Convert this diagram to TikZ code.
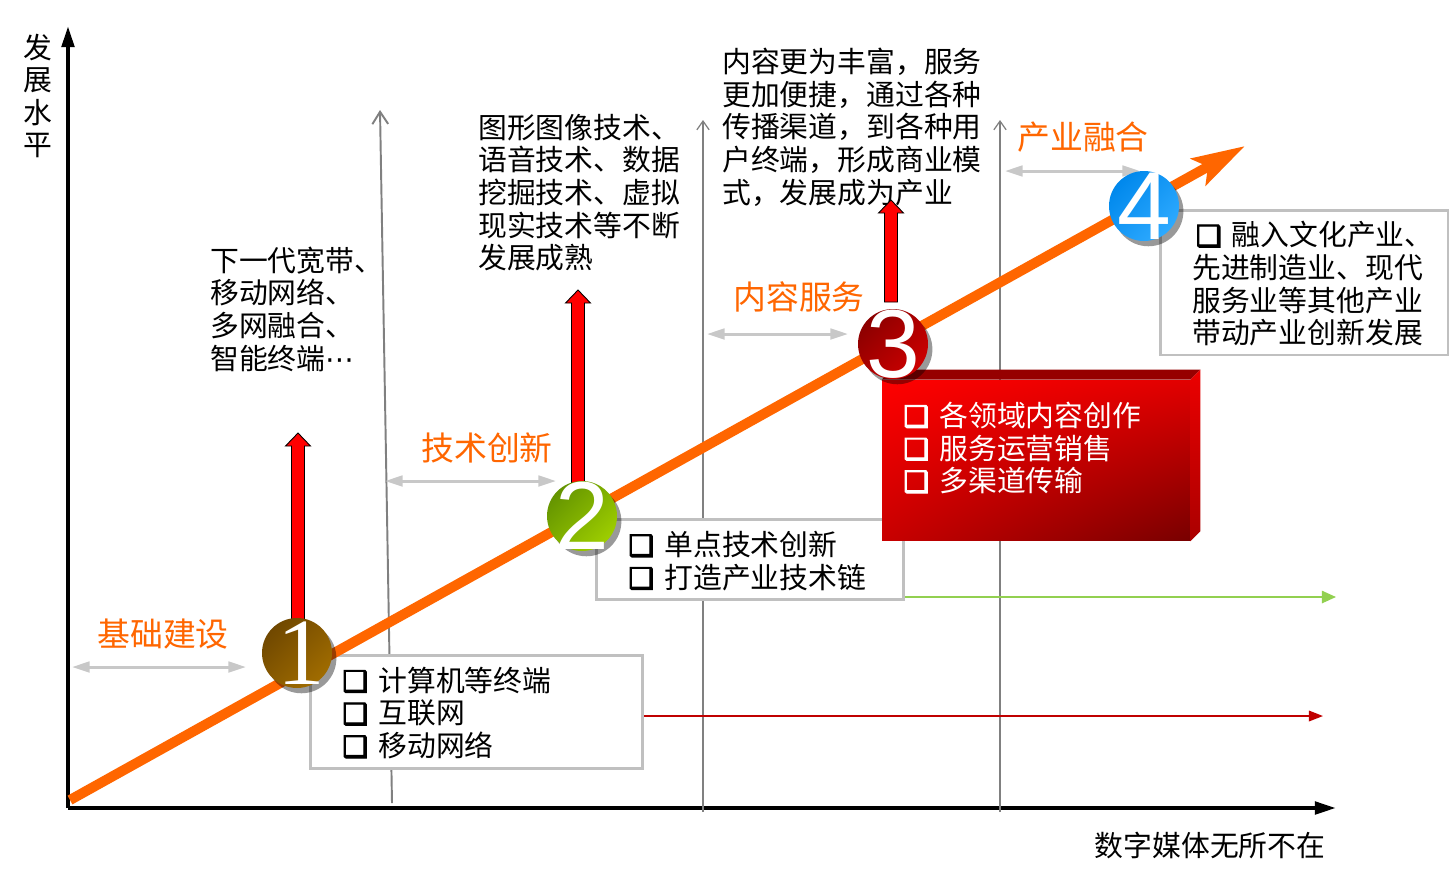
\documentclass[tikz,border=0pt]{standalone}
\usepackage{fontspec}
\setmainfont{Noto Sans CJK SC}
\newfontfamily\symfont{DejaVu Sans}
\newfontfamily\heavysym{DejaVu Sans}[FakeBold=3.5]
\newfontfamily\numsans{Liberation Sans}
\newfontfamily\numserif{Liberation Serif}
\usetikzlibrary{arrows.meta,shadows,shadings,calc}

\definecolor{orangeline}{RGB}{255,102,0}
\definecolor{boxgray}{RGB}{192,192,192}
\definecolor{axisgray}{RGB}{128,128,128}
\definecolor{lightline}{RGB}{200,200,200}
\definecolor{greenline}{RGB}{146,208,80}
\definecolor{redline}{RGB}{192,0,0}
\definecolor{brownA}{RGB}{112,72,0}
\definecolor{brownB}{RGB}{160,108,0}
\definecolor{greenA}{RGB}{100,148,0}
\definecolor{greenB}{RGB}{158,206,0}
\definecolor{redA}{RGB}{140,0,0}
\definecolor{redB}{RGB}{205,0,0}
\definecolor{blueA}{RGB}{0,136,236}
\definecolor{blueB}{RGB}{46,170,255}

% hollow square bullet followed by fixed gap
\newcommand\bx{\makebox[20.5pt][l]{{\heavysym ❑}}}

% upright block arrow from base #1 to tip #2
\newcommand\blockarrow[2]{%
  \filldraw[fill=red, draw=black, line width=0.5pt, line join=miter]
    ($(#1)+(-6.5,0)$) -- ($(#2)+(-6.5,13)$) -- ($(#2)+(-12.5,13)$) -- (#2)
    -- ($(#2)+(12.5,13)$) -- ($(#2)+(6.5,13)$) -- ($(#1)+(6.5,0)$) -- cycle;}

\tikzset{
  txt/.style={font=\fontsize{16.4}{18.6}\selectfont, align=left, inner sep=0pt, anchor=west},
  olabel/.style={font=\fontsize{18.7}{20}\selectfont, text=orangeline, inner sep=0pt},
  gbox/.style={draw=boxgray, line width=1.7pt, fill=white, inner sep=0pt},
  ball/.style={circle, minimum size=1.4cm, inner sep=0pt,
    drop shadow={shadow xshift=2.5pt, shadow yshift=-3pt, opacity=0.4, fill=black}},
  digit/.style={text=white, inner sep=0pt},
  dbl/.style={draw=lightline, line width=1.7pt,
    {Triangle[length=10pt,width=6pt]}-{Triangle[length=10pt,width=6pt]}},
  axisline/.style={draw=black, line width=2.3pt, -{Triangle[length=12pt,width=7pt]}},
  thingray/.style={draw=axisgray, line width=0.7pt, -{Straight Barb[length=5pt,width=7pt]}},
}

\begin{document}
\begin{tikzpicture}[x=0.02cm, y=-0.02cm]
  \fill[white] (0,0) rectangle (1456,870);
  \useasboundingbox (0,0) rectangle (1456,870);

  % axes
  \coordinate (org) at (68,808);
  \coordinate (ytop) at (68,26);
  \coordinate (xend) at (1336,808);
  \draw[axisline] (org) -- (ytop);
  \draw[axisline] (org) -- (xend);
  \node[font=\fontsize{16.4}{18.5}\selectfont, align=center, inner sep=0pt] (ylab) at (38,96) {发\\展\\水\\平};
  \node[font=\fontsize{16.4}{18.5}\selectfont, inner sep=0pt] (xlab) at (1210,845) {数字媒体无所不在};

  % stage separators
  \coordinate (s1a) at (392,803); \coordinate (s1b) at (380,110);
  \coordinate (s2a) at (703,812); \coordinate (s2b) at (703,120);
  \coordinate (s3a) at (1000,812); \coordinate (s3b) at (1000,120);
  \draw[draw=axisgray, line width=1.1pt, -{Straight Barb[length=7pt,width=9pt]}] (s1a) -- (s1b);
  \draw[thingray] (s2a) -- (s2b);
  \draw[thingray] (s3a) -- (s3b);

  % stage spans
  \coordinate (d1a) at (72,667);   \coordinate (d1b) at (246,667);
  \coordinate (d2a) at (385,481);  \coordinate (d2b) at (556,481);
  \coordinate (d3a) at (707,334);  \coordinate (d3b) at (848,334);
  \coordinate (d4a) at (1005,171); \coordinate (d4b) at (1140,171);
  \draw[dbl] (d1a) -- (d1b);
  \draw[dbl] (d2a) -- (d2b);
  \draw[dbl] (d3a) -- (d3b);
  \draw[dbl] (d4a) -- (d4b);

  % stage labels
  \node[olabel] (l1) at (163,634) {基础建设};
  \node[olabel] (l2) at (487,448) {技术创新};
  \node[olabel] (l3) at (799,297) {内容服务};
  \node[olabel] (l4) at (1083,137) {产业融合};

  % description boxes
  \node[gbox, minimum width=6.66cm, minimum height=2.26cm] (b1) at (476.5,711.5) {};
  \node[gbox, minimum width=6.16cm, minimum height=1.6cm] (b2) at (750,559) {};
  \node[gbox, minimum width=5.76cm, minimum height=2.9cm] (b4) at (1304,282.5) {};

  % long trend arrows
  \coordinate (r1end) at (1323,716);
  \coordinate (g2end) at (1336,597);
  \draw[draw=redline, line width=0.9pt, -{Triangle[length=8pt,width=6pt]}] (b1.east |- r1end) -- (r1end);
  \draw[draw=greenline, line width=0.9pt, -{Triangle[length=8pt,width=7pt]}] (b2.east |- g2end) -- (g2end);

  \node[txt] (t1) at (342,713) {\bx 计算机等终端\\\bx 互联网\\\bx 移动网络};
  \node[txt] (t2) at (628,561) {\bx 单点技术创新\\\bx 打造产业技术链};
  \node[txt] (t4) at (1192,284) {\hspace*{2pt}\bx 融入文化产业、\\先进制造业、现代\\服务业等其他产业\\带动产业创新发展};

  % free texts
  \node[txt] (ta) at (210,309) {下一代宽带、\\移动网络、\\多网融合、\\智能终端{\symfont ⋯}};
  \node[txt] (tb) at (478,192.5) {图形图像技术、\\语音技术、数据\\挖掘技术、虚拟\\现实技术等不断\\发展成熟};
  \node[txt] (tc) at (722,127) {内容更为丰富，服务\\更加便捷，通过各种\\传播渠道，到各种用\\户终端，形成商业模\\式，发展成为产业};

  % main growth line
  \coordinate (g0) at (70,800);
  \coordinate (g1) at (1245,146);
  \draw[draw=orangeline, line width=5.7pt, -{Stealth[length=30pt,width=17pt,inset=6pt]}] (g0) -- (g1);

  % rising block arrows
  \coordinate (ab1) at (298,622); \coordinate (at1) at (298,433);
  \coordinate (ab2) at (578,485); \coordinate (at2) at (578,290);
  \coordinate (ab3) at (891,302); \coordinate (at3) at (891,200);
  \blockarrow{ab1}{at1}
  \blockarrow{ab2}{at2}
  \blockarrow{ab3}{at3}

  % content service panel
  \node[minimum width=6.16cm, minimum height=3.22cm, inner sep=0pt,
        upper left={rgb,255:red,255;green,0;blue,0}, upper right={rgb,255:red,225;green,0;blue,0},
        lower left={rgb,255:red,200;green,0;blue,0}, lower right={rgb,255:red,120;green,0;blue,0}]
        (rb) at (1036,460.5) {};
  \fill[fill={rgb,255:red,150;green,0;blue,0}] (rb.north west) -- ++(10,-10) -- ($(rb.north east)+(10,-10)$) -- (rb.north east) -- cycle;
  \shade[top color={rgb,255:red,235;green,0;blue,0}, bottom color={rgb,255:red,170;green,0;blue,0}]
    (rb.north east) -- ++(10,-10) -- ($(rb.south east)+(10,-10)$) -- (rb.south east) -- cycle;
  \node[txt, text=white] (t3) at (903,448) {\bx 各领域内容创作\\\bx 服务运营销售\\\bx 多渠道传输};

  % stage markers
  \node[ball, top color=brownA, bottom color=brownB, shading angle=45] (c1) at (297,653) {};
  \node[ball, top color=greenA, bottom color=greenB, shading angle=45] (c2) at (582,516) {};
  \node[ball, top color=redA, bottom color=redB, shading angle=45] (c3) at (893,344) {};
  \node[ball, top color=blueA, bottom color=blueB, shading angle=45] (c4) at (1144,206) {};
  \node[digit, font=\numserif\fontsize{54}{54}\selectfont] (n1) at ($(c1)+(4,0)$) {1};
  \node[digit, font=\numsans\fontsize{55}{55}\selectfont] (n2) at (c2) {2};
  \node[digit, font=\numsans\fontsize{55}{55}\selectfont] (n3) at (c3) {3};
  \node[digit, font=\numsans\fontsize{55}{55}\selectfont] (n4) at (c4) {4};
\end{tikzpicture}
\end{document}
